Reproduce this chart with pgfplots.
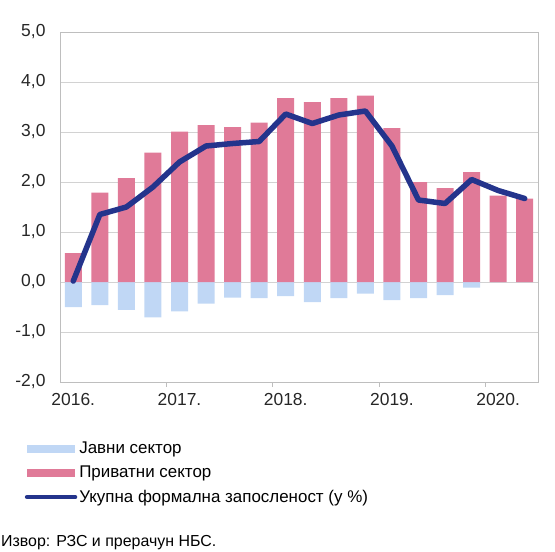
\documentclass[border=0pt]{standalone}
\usepackage{pgfplots}
\pgfplotsset{compat=1.18}
\usepackage{fontspec}
\setmainfont{Liberation Sans}
\definecolor{pinkbar}{RGB}{224,122,152}
\definecolor{bluebar}{RGB}{192,215,245}
\definecolor{navyline}{RGB}{36,52,140}
\definecolor{gridgray}{RGB}{210,210,210}
\definecolor{axisgray}{RGB}{190,190,190}
\pgfplotstableread{
x pub priv tot
0 -0.50 0.58 0.02
1 -0.46 1.79 1.35
2 -0.56 2.08 1.50
3 -0.71 2.59 1.90
4 -0.59 3.01 2.40
5 -0.43 3.14 2.72
6 -0.31 3.10 2.77
7 -0.32 3.19 2.81
8 -0.28 3.68 3.36
9 -0.40 3.60 3.17
10 -0.32 3.68 3.34
11 -0.23 3.73 3.42
12 -0.36 3.08 2.72
13 -0.32 2.00 1.64
14 -0.26 1.88 1.57
15 -0.11 2.20 2.05
16 0.00 1.73 1.83
17 0.00 1.67 1.67
}\datatable
\begin{document}
\begin{tikzpicture}
\useasboundingbox (0bp,0bp) rectangle (555bp,552bp);
\begin{axis}[
  at={(60bp,170bp)}, anchor=south west,
  scale only axis, width=478bp, height=350bp,
  xmin=-0.5, xmax=17.5, ymin=-2, ymax=5,
  xtick={0,4,8,12,16},
  xticklabels={2016.,2017.,2018.,2019.,2020.},
  minor xtick={3.5,7.5,11.5,15.5},
  ytick={-2,-1,0,1,2,3,4,5},
  major tick length=0pt,
  minor tick length=5bp,
  tick align=outside,
  minor tick style={axisgray},
  xtick pos=bottom, ytick pos=left,
  ymajorgrids, grid style={gridgray, line width=0.8bp},
  axis line style={axisgray, line width=0.8bp},
  /pgf/number format/assume math mode=true,
  yticklabel={\pgfmathprintnumber[fixed,fixed zerofill,precision=1,use comma]{\tick}},
  tick label style={font=\fontsize{17.5}{21}\selectfont, text=black!85},
  yticklabel style={xshift=-11bp},
  xticklabel style={yshift=-8bp},
  legend style={at={(-0.074,-0.165)}, anchor=north west, draw=none, fill=none,
    font=\fontsize{17}{20}\selectfont, row sep=7bp, inner sep=0pt},
  legend cell align=left,
]
\addplot[ybar, bar width=17bp, bar shift=0pt, fill=bluebar, draw=none,
  legend image code/.code={\fill[bluebar] (0bp,-4bp) rectangle (48bp,4bp);}]
  table[x=x, y=pub] {\datatable};
\addlegendentry{Јавни сектор}
\addplot[ybar, bar width=17bp, bar shift=0pt, fill=pinkbar, draw=none,
  legend image code/.code={\fill[pinkbar] (0bp,-4bp) rectangle (48bp,4bp);}]
  table[x=x, y=priv] {\datatable};
\addlegendentry{Приватни сектор}
\addplot[navyline, line width=5.5bp, line join=round, line cap=round, mark=none,
  legend image code/.code={\draw[navyline, line width=4.5bp] (0bp,0bp) -- (48bp,0bp);}]
  table[x=x, y=tot] {\datatable};
\addlegendentry{Укупна формална запосленост (у \%)}
\end{axis}
\node[anchor=north west, inner sep=0pt, font=\fontsize{16}{19}\selectfont] at (1bp,17bp) {Извор: РЗС и прерачун НБС.};
\end{tikzpicture}
\end{document}
